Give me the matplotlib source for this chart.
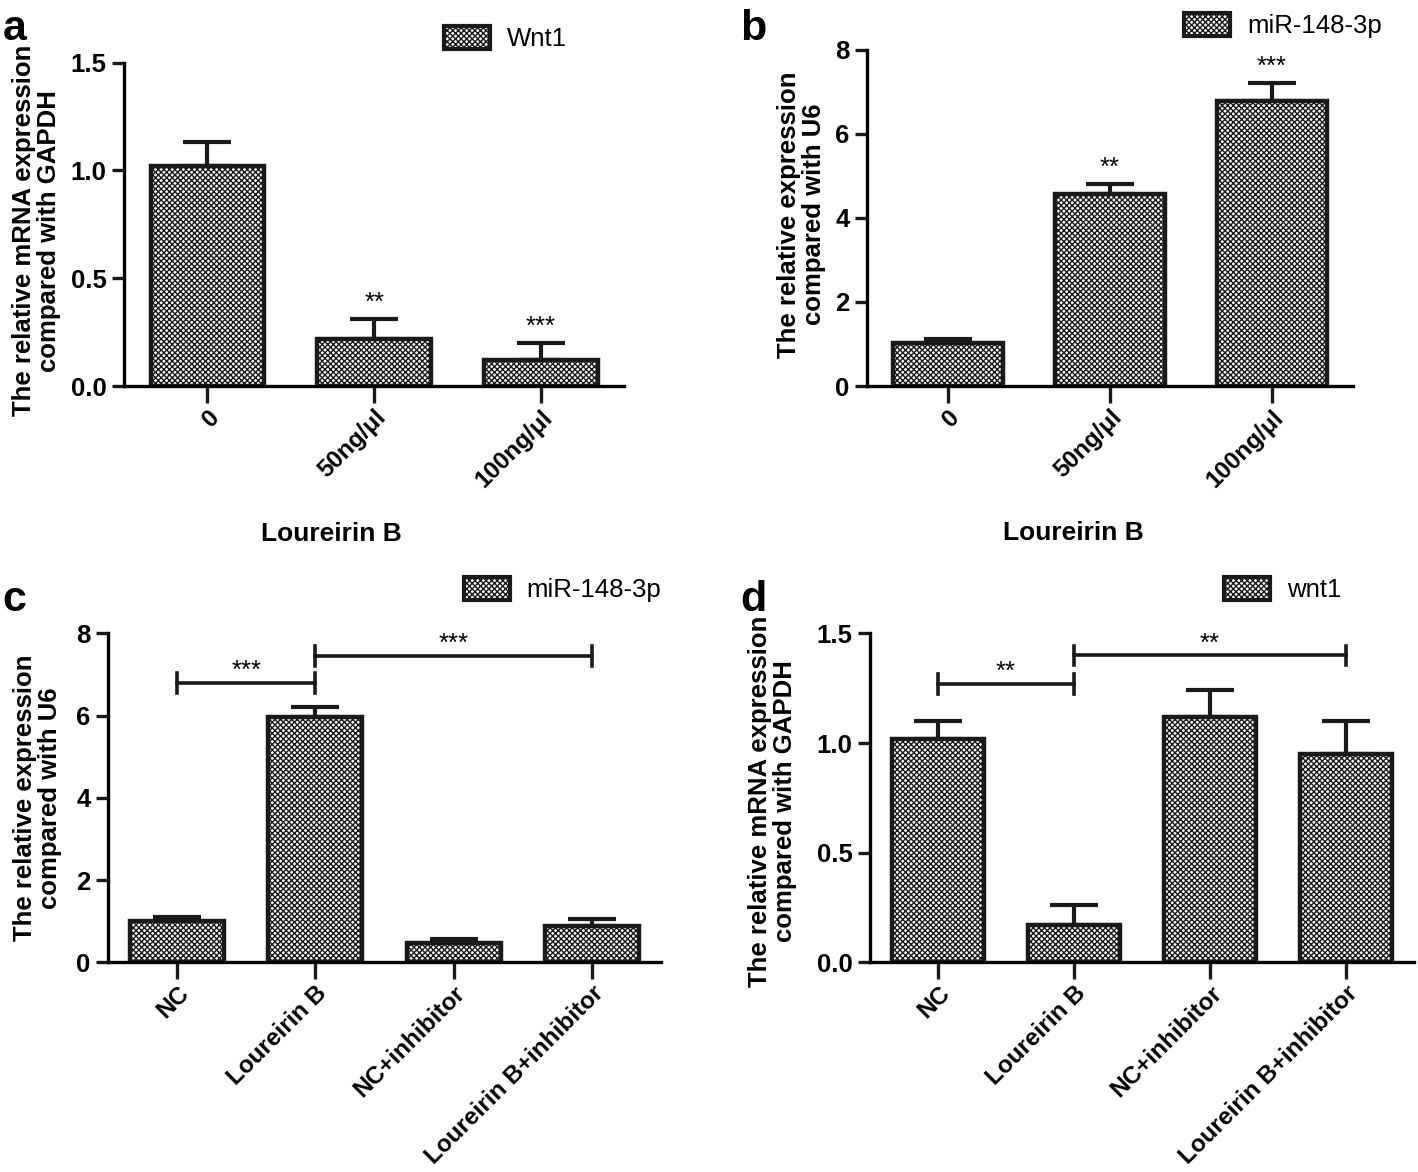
import matplotlib
matplotlib.use('Agg')
import matplotlib.pyplot as plt
import matplotlib.patches as mpatches
import numpy as np

plt.rcParams['font.family'] = ['Liberation Sans', 'DejaVu Sans']
plt.rcParams['hatch.linewidth'] = 1.0
plt.rcParams['hatch.color'] = '#3a3a3a'

# a : Wnt1 vs Loureirin B dose
a_labels = ['0', '50ng/μl', '100ng/μl']
a_means = [1.02, 0.22, 0.12]
a_err = [0.11, 0.09, 0.08]
a_stars = ['', '**', '***']

# b : miR-148-3p vs Loureirin B dose
b_labels = ['0', '50ng/μl', '100ng/μl']
b_means = [1.03, 4.56, 6.78]
b_err = [0.08, 0.24, 0.43]
b_stars = ['', '**', '***']

# c : miR-148-3p, inhibitor groups
c_labels = ['NC', 'Loureirin B', 'NC+inhibitor', 'Loureirin B+inhibitor']
c_means = [1.01, 5.98, 0.48, 0.89]
c_err = [0.09, 0.24, 0.10, 0.16]
c_brackets = [(0, 1, 6.79, '***'), (1, 3, 7.45, '***')]

# d : wnt1, inhibitor groups
d_labels = ['NC', 'Loureirin B', 'NC+inhibitor', 'Loureirin B+inhibitor']
d_means = [1.02, 0.17, 1.12, 0.95]
d_err = [0.08, 0.09, 0.12, 0.15]
d_brackets = [(0, 1, 1.27, '**'), (1, 3, 1.40, '**')]

HATCH = 'xxxxxx'
FS = 18.5

fig = plt.figure(figsize=(14.18, 11.72), dpi=100)
fig.set_facecolor('white')


def bar_panel(rect, labels, means, err, ymax, ystep, fmt, ylabel):
    ax = fig.add_axes(rect)
    x = np.arange(len(means))
    ax.bar(x, means, width=0.68, color='white', edgecolor='#1a1a1a',
           linewidth=3.2, hatch=HATCH, zorder=2)
    ax.errorbar(x, means, yerr=[np.zeros(len(err)), err], fmt='none',
                ecolor='#1a1a1a', elinewidth=3, capsize=17, capthick=3, zorder=1)
    ax.set_xlim(-0.5, len(means) - 0.5)
    ax.set_ylim(0, ymax)
    yt = np.arange(0, ymax + ystep / 2, ystep)
    ax.set_yticks(yt)
    ax.set_yticklabels([fmt.format(v) for v in yt], fontweight='bold')
    ax.set_xticks(x)
    ax.set_xticklabels(labels, rotation=45, ha='right', rotation_mode='anchor',
                       fontweight='bold')
    ax.tick_params(axis='both', labelsize=FS, width=2.4, length=9, direction='out',
                   color='#1a1a1a')
    ax.tick_params(axis='x', length=12, pad=2, labelsize=17.5)
    ax.spines['top'].set_visible(False)
    ax.spines['right'].set_visible(False)
    ax.spines['left'].set_linewidth(2.4)
    ax.spines['bottom'].set_linewidth(2.4)
    ax.set_ylabel(ylabel, fontsize=FS, fontweight='bold', va='center', linespacing=1.05)
    return ax


def add_legend(name, xy):
    h = mpatches.Patch(facecolor='white', edgecolor='#1a1a1a', linewidth=3,
                       hatch=HATCH, label=name)
    fig.legend(handles=[h], loc='center left', bbox_to_anchor=xy, frameon=False,
               fontsize=FS, handlelength=1.8, handleheight=1.0, handletextpad=0.65,
               borderpad=0, borderaxespad=0)


# panel a
ax_a = bar_panel([0.0874, 0.6706, 0.353, 0.276], a_labels, a_means, a_err, 1.5, 0.5,
                 '{:.1f}', 'The relative mRNA expression\ncompared with GAPDH')
for i, s in enumerate(a_stars):
    if s:
        ax_a.annotate(s, (i, a_means[i] + a_err[i]), xytext=(0, 3),
                      textcoords='offset points', ha='center', va='bottom', fontsize=FS)
ax_a.set_xlabel('Loureirin B', fontsize=FS + 0.5, fontweight='bold')
ax_a.xaxis.set_label_coords(0.415, -0.42)
ax_a.yaxis.set_label_coords(-0.175, 0.48)
add_legend('Wnt1', (0.313, 0.967))

# panel b
ax_b = bar_panel([0.6114, 0.6706, 0.3427, 0.287], b_labels, b_means, b_err, 8, 2,
                 '{:.0f}', 'The relative expression\ncompared with U6')
for i, s in enumerate(b_stars):
    if s:
        ax_b.annotate(s, (i, b_means[i] + b_err[i]), xytext=(0, 3),
                      textcoords='offset points', ha='center', va='bottom', fontsize=FS)
ax_b.set_xlabel('Loureirin B', fontsize=FS + 0.5, fontweight='bold')
ax_b.xaxis.set_label_coords(0.424, -0.40)
ax_b.yaxis.set_label_coords(-0.134, 0.51)
add_legend('miR-148-3p', (0.835, 0.978))

# panel c
ax_c = bar_panel([0.0762, 0.1788, 0.39, 0.2807], c_labels, c_means, c_err, 8, 2,
                 '{:.0f}', 'The relative expression\ncompared with U6')
ax_c.yaxis.set_label_coords(-0.128, 0.50)
add_legend('miR-148-3p', (0.327, 0.497))

# panel d
ax_d = bar_panel([0.6135, 0.1788, 0.3836, 0.2807], d_labels, d_means, d_err, 1.5, 0.5,
                 '{:.1f}', 'The relative mRNA expression\ncompared with GAPDH')
ax_d.yaxis.set_label_coords(-0.18, 0.49)
add_legend('wnt1', (0.863, 0.497))

# significance brackets
for ax, brackets, tick in [(ax_c, c_brackets, 0.24), (ax_d, d_brackets, 0.045)]:
    for x0, x1, y, s in brackets:
        ax.plot([x0, x1], [y, y], color='#1a1a1a', lw=2.6, clip_on=False)
        ax.plot([x0, x0], [y - tick, y + tick], color='#1a1a1a', lw=2.6, clip_on=False)
        ax.plot([x1, x1], [y - tick, y + tick], color='#1a1a1a', lw=2.6, clip_on=False)
        ax.text((x0 + x1) / 2, y, s, ha='center', va='bottom', fontsize=FS)

# panel letters
for lab, xy in [('a', (0.002, 0.975)), ('b', (0.522, 0.975)),
                ('c', (0.002, 0.488)), ('d', (0.522, 0.488))]:
    fig.text(xy[0], xy[1], lab, fontsize=31, fontweight='bold', va='center')

fig.savefig('out.png', dpi=100)
